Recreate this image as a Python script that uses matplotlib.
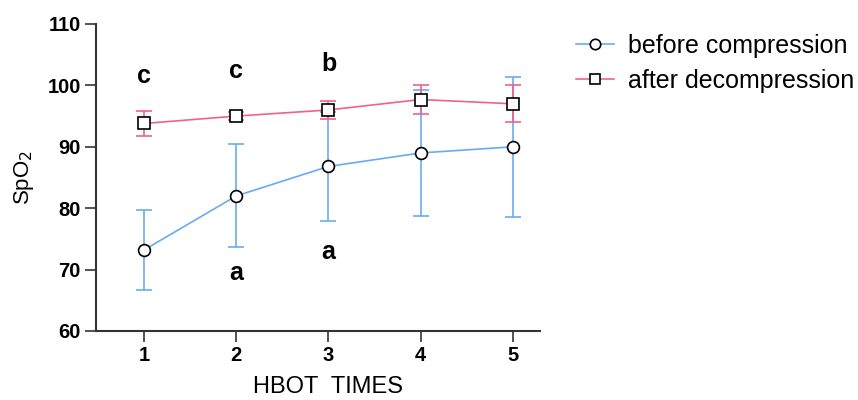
import matplotlib
matplotlib.use("Agg")
import matplotlib.pyplot as plt
from matplotlib.lines import Line2D

plt.rcParams['font.family'] = ['Liberation Sans', 'DejaVu Sans']

times = [1, 2, 3, 4, 5]
before_mean = [73.2, 82.0, 86.8, 89.0, 90.0]
before_sd = [6.5, 8.4, 8.9, 10.3, 11.4]
after_mean = [93.8, 95.0, 96.0, 97.7, 97.0]
after_sd = [2.1, 0.6, 1.5, 2.3, 3.0]
labels_before = ["", "a", "a", "", ""]
labels_after = ["c", "c", "b", "", ""]
label_after_y = [101.6, 102.4, 103.5]
label_before_y = [None, 69.5, 72.9]

blue = "#6aaaf2"
pink = "#f0628a"
axcol = "#333333"

fig = plt.figure(figsize=(8.58, 4.0), dpi=100)
ax = fig.add_axes([0.112, 0.1725, 0.517, 0.7675])

ax.errorbar(times, before_mean, yerr=before_sd, color=blue, lw=1.2, capsize=6,
            capthick=1.2, elinewidth=1.2, marker='o', markersize=8.5,
            markerfacecolor='white', markeredgecolor='black', markeredgewidth=1.2,
            zorder=2)
ax.errorbar(times, after_mean, yerr=after_sd, color=pink, lw=1.2, capsize=6,
            capthick=1.2, elinewidth=1.2, marker='s', markersize=8.5,
            markerfacecolor='white', markeredgecolor='black', markeredgewidth=1.2,
            zorder=3)

for i, t in enumerate(labels_after):
    if t:
        ax.text(times[i], label_after_y[i], t, ha='center', va='center',
                fontsize=18, fontweight='bold')
for i, t in enumerate(labels_before):
    if t:
        ax.text(times[i], label_before_y[i], t, ha='center', va='center',
                fontsize=18, fontweight='bold')

ax.set_xlim(0.48, 5.29)
ax.set_ylim(60, 110)
ax.set_xticks(times)
ax.set_yticks([60, 70, 80, 90, 100, 110])
ax.tick_params(axis='both', direction='out', length=8, width=1.2, labelsize=14.5,
               color=axcol, pad=3)
for lab in ax.get_xticklabels() + ax.get_yticklabels():
    lab.set_fontweight('bold')
for s in ['top', 'right']:
    ax.spines[s].set_visible(False)
for s in ['left', 'bottom']:
    ax.spines[s].set_linewidth(1.5)
    ax.spines[s].set_color(axcol)

ax.set_xlabel('HBOT  TIMES', fontsize=17)
ax.xaxis.set_label_coords(0.5225, -0.145)
ax.set_ylabel('SpO$_2$', fontsize=16, labelpad=8)

handles = [
    Line2D([], [], color=blue, lw=1.2, marker='o', markersize=7.5,
           markerfacecolor='white', markeredgecolor='black', markeredgewidth=1.2),
    Line2D([], [], color=pink, lw=1.2, marker='s', markersize=7.5,
           markerfacecolor='white', markeredgecolor='black', markeredgewidth=1.2),
]
leg = ax.legend(handles, ['before compression', 'after decompression'],
                loc='upper left', bbox_to_anchor=(1.06, 1.0), frameon=False,
                fontsize=18, handlelength=1.5, handletextpad=0.55, labelspacing=0.43,
                borderaxespad=0)

fig.savefig('out.png', dpi=100)
